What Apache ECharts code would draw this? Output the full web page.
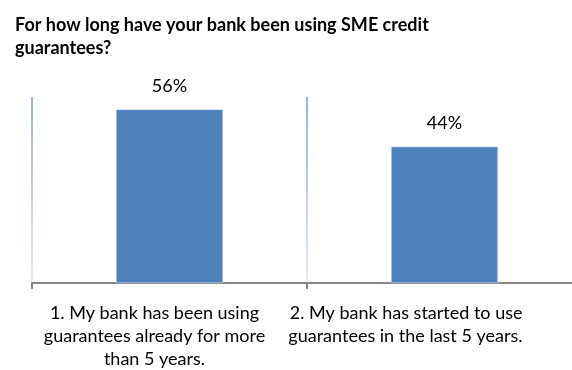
<!DOCTYPE html>
<html>
<head>
<meta charset="utf-8">
<script src="https://cdn.jsdelivr.net/npm/echarts@6/dist/echarts.min.js"></script>
<style>
  html, body { margin: 0; padding: 0; background: #ffffff; }
  #chart { width: 572px; height: 370px; }
</style>
</head>
<body>
<div id="chart"></div>
<script>
// Survey question and answer options
const titleText = 'For how long have your bank been using SME credit\nguarantees?';
const categories = [
  '1. My bank has been using\nguarantees already for more\nthan 5 years.',
  '2. My bank has started to use\nguarantees in the last 5 years.'
];
// Share of banks per answer, in percent
const shares = [56, 44];

const FONT = 'Lato, "Open Sans", sans-serif';

// Answer 1 is centred (nudged left); answer 2 has its lines flush right
const categoryItems = [
  { value: categories[0], textStyle: { align: 'center', padding: [0, 30, 0, 0] } },
  { value: categories[1], textStyle: { align: 'right', padding: [0, -78, 0, 0] } }
];

const chart = echarts.init(document.getElementById('chart'), null, { renderer: 'canvas' });

chart.setOption({
  animation: false,
  backgroundColor: '#ffffff',
  title: {
    text: titleText,
    left: 10,
    top: 9,
    textStyle: {
      fontFamily: FONT,
      fontWeight: 'bold',
      fontSize: 18,
      lineHeight: 23,
      color: '#000000'
    }
  },
  grid: {
    left: 32,
    top: 97,
    width: 550,
    height: 186,
    containLabel: false,
    outerBoundsMode: 'none'
  },
  xAxis: {
    type: 'category',
    data: categoryItems,
    boundaryGap: true,
    axisLine: { show: true, lineStyle: { color: '#878787', width: 2 } },
    axisTick: { show: true, length: 6, lineStyle: { color: '#878787', width: 2 } },
    axisLabel: {
      fontFamily: FONT,
      fontSize: 18,
      lineHeight: 23,
      color: '#000000',
      margin: 19,
      interval: 0,
      hideOverlap: false
    },
    splitLine: {
      show: true,
      lineStyle: {
        width: 2,
        color: new echarts.graphic.LinearGradient(0, 0, 0, 1, [
          { offset: 0, color: '#95b1e2' },
          { offset: 1, color: '#e3ebf8' }
        ])
      }
    }
  },
  yAxis: {
    type: 'value',
    min: 0,
    max: 60,
    show: true,
    axisLine: { show: false },
    axisTick: { show: false },
    axisLabel: { show: false },
    splitLine: { show: false }
  },
  series: [{
    type: 'bar',
    data: shares,
    barWidth: 107,
    itemStyle: { color: '#4f81bd', borderColor: '#e9eef7', borderWidth: 0.5 },
    label: {
      show: true,
      position: 'top',
      distance: 14,
      formatter: p => p.value + '%',
      fontFamily: FONT,
      fontSize: 18,
      color: '#000000'
    }
  }]
});
</script>
</body>
</html>
